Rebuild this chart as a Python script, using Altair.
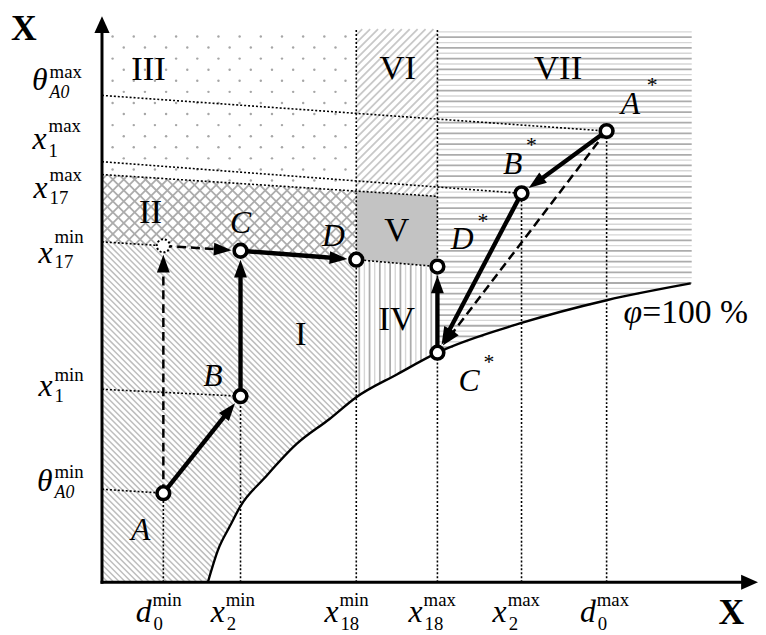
import math
import altair as alt
import pandas as pd

# ---------------- chart values (chart units: origin at the axes' crossing, x to the right, y upward)
pt_name = ["A", "B", "C", "D", "P", "A*", "B*", "C*", "D*"]
pt_x = [62, 140, 140, 257, 62, 510, 424, 339, 339]
pt_y = [90, 188, 335, 326, 340, 456, 393, 232, 319]

arrow_from = ["A", "B", "C", "A", "P", "A*", "B*", "A*", "C*"]
arrow_to = ["B", "C", "D", "P", "C", "B*", "C*", "C*", "D*"]
arrow_dashed = [False, False, False, True, True, False, False, True, False]

# phi = 100 % curve
curve_x = [107, 117, 130, 140, 164, 197, 230, 257, 298, 339, 424, 510, 595]
curve_y = [0, 32, 58, 77, 105, 140, 165, 187, 210, 232, 262, 285, 302]

# sloped dotted level lines
lvl_x0 = [0, 0, 0, 0, 257, 0, 0]
lvl_y0 = [492, 425, 412, 344, 326, 94, 195]
lvl_x1 = [510, 424, 339, 62, 339, 62, 140]
lvl_y1 = [456, 393, 390, 340, 319, 90, 188]

# vertical dotted guides
vert_x = [62, 140, 257, 339, 424, 510]
vert_top = [90, 188, 559, 559, 393, 456]

TOP, RIGHT = 559, 596

# tick labels, x axis
xl_main = ["d", "x", "x", "x", "x", "d"]
xl_sup = ["min", "min", "min", "max", "max", "max"]
xl_sub = ["0", "2", "18", "18", "2", "0"]
xl_right = [50, 124, 239, 324, 409, 499]

# tick labels, y axis
yl_main = ["θ", "x", "x", "x", "x", "θ"]
yl_sup = ["max", "max", "max", "min", "min", "min"]
yl_sub = ["A0", "1", "17", "17", "1", "A0"]
yl_right = [-55, -56, -55, -50, -50, -50]
yl_base = [497, 438, 388, 323, 188, 92]
yl_supbase = [510, 455, 405, 343, 203, 105]
yl_subbase = [489, 430, 382, 318, 182, 85]

# region numerals
rn_text = ["I", "II", "III", "IV", "V", "VI", "VII"]
rn_x = [201, 49, 47, 298, 298, 299, 461]
rn_y = [240, 363, 508, 255, 345, 509, 509]

# point labels
pl_text = ["A", "B", "C", "D", "A", "B", "C", "D"]
pl_x = [39, 112, 140, 234, 534, 415, 371, 364]
pl_y = [43, 198, 353, 340, 473, 413, 193, 337]
star_x = [556, 434, 391, 385]
star_y = [502, 442, 222, 365]

# ---------------- layout
W, H = 758, 627
OX, OY = 103, 585
xs = alt.Scale(domain=[8 - OX, 8 + W - OX])
ys = alt.Scale(domain=[OY - 8 - H, OY - 8])
SERIF = "Liberation Serif"


def X(f):
    return alt.X(f, type="quantitative", scale=xs, axis=None)


def Y(f):
    return alt.Y(f, type="quantitative", scale=ys, axis=None)


P = {n: (x, y) for n, x, y in zip(pt_name, pt_x, pt_y)}


def line_at(x0, y0, x1, y1, x):
    return y0 + (y1 - y0) * (x - x0) / (x1 - x0)


L3_257 = line_at(lvl_x0[2], lvl_y0[2], lvl_x1[2], lvl_y1[2], 257)
L3_339 = lvl_y1[2]
L4_0, L4_257 = lvl_y0[3], P["D"][1]
curve = list(zip(curve_x, curve_y))

poly_I = [(0, 0), (curve_x[0], 0)] + [p for p in curve if 0 < p[0] <= 257] + [(257, L4_257), (0, L4_0)]
poly_II = [(0, L4_0), (0, lvl_y0[2]), (257, L3_257), (257, L4_257)]
poly_III = [(0, lvl_y0[2]), (0, TOP), (257, TOP), (257, L3_257)]
poly_IV = [(257, L4_257), (339, P["D*"][1])] + [p for p in curve if 257 <= p[0] <= 339][::-1]
poly_V = [(257, L4_257), (257, L3_257), (339, L3_339), (339, P["D*"][1])]
poly_VI = [(257, L3_257), (257, TOP), (339, TOP), (339, L3_339)]
poly_VII = [(339, TOP), (RIGHT, TOP), (RIGHT, curve_y[-1])] + [p for p in curve if p[0] >= 339][::-1]


def hatch(poly, normal, spacing, offset=0.0):
    nx, ny = normal
    nn = math.hypot(nx, ny)
    nx, ny = nx / nn, ny / nn
    vals = [nx * x + ny * y for x, y in poly]
    lo, hi = min(vals), max(vals)
    k = math.ceil((lo - offset) / spacing)
    dx, dy = -ny, nx
    segs = []
    while offset + k * spacing <= hi:
        c = offset + k * spacing
        pts = []
        n = len(poly)
        for i in range(n):
            x1, y1 = poly[i]
            x2, y2 = poly[(i + 1) % n]
            s1 = nx * x1 + ny * y1 - c
            s2 = nx * x2 + ny * y2 - c
            if (s1 < 0) != (s2 < 0):
                t = s1 / (s1 - s2)
                pts.append((x1 + t * (x2 - x1), y1 + t * (y2 - y1)))
        pts.sort(key=lambda p: p[0] * dx + p[1] * dy)
        for j in range(0, len(pts) - 1, 2):
            segs.append((pts[j], pts[j + 1], k))
        k += 1
    return segs


rows = []


def add(segs, col, w, col2=None, w2=None):
    for a, b, k in segs:
        c, ww = (col, w) if (col2 is None or k % 2 == 0) else (col2, w2)
        rows.append(dict(x=a[0], y=a[1], x2=b[0], y2=b[1], col=c, w=ww))


s2 = math.sqrt(2)
add(hatch(poly_I, (1, 1), 6 / s2), "#bdbdbd", 1.5)
add(hatch(poly_II, (1, 1), 11 / s2), "#acacac", 1.8)
add(hatch(poly_II, (1, -1), 11 / s2), "#acacac", 1.8)
add(hatch(poly_VI, (1, -1), 8 / s2), "#c8c8c8", 1.8)
add(hatch(poly_IV, (1, 0), 5.2), "#acacac", 1.8, "#d6d6d6", 1.4)
add(hatch(poly_VII, (0, 1), 5.4), "#acacac", 1.8, "#d6d6d6", 1.4)
hatch_df = pd.DataFrame(rows)


def inside(poly, x, y):
    res = False
    n = len(poly)
    for i in range(n):
        x1, y1 = poly[i]
        x2, y2 = poly[(i + 1) % n]
        if (y1 > y) != (y2 > y):
            xi = x1 + (y - y1) * (x2 - x1) / (y2 - y1)
            if x < xi:
                res = not res
    return res


dots = []
r = 0
yy = 518 + 11.2 * 4
while yy > 380:
    off = 22 if r % 2 == 0 else 10.7
    xx = off
    while xx < 257:
        if inside(poly_III, xx, yy):
            dots.append(dict(x=xx, y=yy))
        xx += 21.4
    yy -= 11.2
    r += 1
dots_df = pd.DataFrame(dots)

hatch_layer = alt.Chart(hatch_df).mark_rule(strokeCap="butt").encode(
    x=X("x"), y=Y("y"), x2="x2", y2="y2",
    color=alt.Color("col:N", scale=None),
    strokeWidth=alt.StrokeWidth("w:Q", scale=None),
)
dots_layer = alt.Chart(dots_df).mark_circle(size=6, color="#a6a6a6", opacity=1).encode(x=X("x"), y=Y("y"))

v_df = pd.DataFrame(dict(x=[257, 339], y=[L3_257, L3_339], y2=[L4_257, P["D*"][1]]))
v_layer = alt.Chart(v_df).mark_area(color="#c3c3c3", opacity=1).encode(x=X("x"), y=Y("y"), y2="y2")

guides_df = pd.concat([
    pd.DataFrame(dict(x=lvl_x0, y=lvl_y0, x2=lvl_x1, y2=lvl_y1)),
    pd.DataFrame(dict(x=vert_x, y=[0] * len(vert_x), x2=vert_x, y2=vert_top)),
])
guides_layer = alt.Chart(guides_df).mark_rule(strokeDash=[2, 2], strokeWidth=1.6, color="black").encode(
    x=X("x"), y=Y("y"), x2="x2", y2="y2")

curve_layer = alt.Chart(pd.DataFrame(dict(x=curve_x, y=curve_y))).mark_line(
    color="black", strokeWidth=2.4, interpolate="monotone").encode(x=X("x"), y=Y("y"))

axes_df = pd.DataFrame(dict(x=[0, 0], y=[0, 0], x2=[0, 648], y2=[556, 0]))
axes_layer = alt.Chart(axes_df).mark_rule(strokeWidth=3, color="black", strokeCap="square").encode(
    x=X("x"), y=Y("y"), x2="x2", y2="y2")
axhead_df = pd.DataFrame(dict(x=[0, 663], y=[572, 0], ang=[0, 90]))
HEAD_AX = "M0,0L0.9,2L-0.9,2Z"
HEAD = "M0,0L0.72,2L-0.72,2Z"
axhead_layer = alt.Chart(axhead_df).mark_point(shape=HEAD_AX, filled=True, color="black", opacity=1, size=290).encode(
    x=X("x"), y=Y("y"), angle=alt.Angle("ang:Q", scale=None))

# arrows
R_END = 9.0
HL = 18.0
arr = []
for f, t, d in zip(arrow_from, arrow_to, arrow_dashed):
    (x0, y0), (x1, y1) = P[f], P[t]
    L = math.hypot(x1 - x0, y1 - y0)
    ux, uy = (x1 - x0) / L, (y1 - y0) / L
    tx, ty = x1 - ux * R_END, y1 - uy * R_END
    ex, ey = tx - ux * HL * 0.7, ty - uy * HL * 0.7
    ang = math.degrees(math.atan2(ux, uy)) % 360
    arr.append(dict(x=x0, y=y0, x2=ex, y2=ey, tx=tx, ty=ty, ang=ang, dashed=d))
arr_df = pd.DataFrame(arr)
solid_layer = alt.Chart(arr_df[~arr_df.dashed]).mark_rule(strokeWidth=4.4, color="black", strokeCap="butt").encode(
    x=X("x"), y=Y("y"), x2="x2", y2="y2")
dashed_layer = alt.Chart(arr_df[arr_df.dashed]).mark_rule(strokeWidth=2.5, color="black", strokeDash=[9, 5], strokeCap="butt").encode(
    x=X("x"), y=Y("y"), x2="x2", y2="y2")
heads_layer = alt.Chart(arr_df).mark_point(shape=HEAD, filled=True, color="black", opacity=1, size=HL ** 2).encode(
    x=X("tx"), y=Y("ty"), angle=alt.Angle("ang:Q", scale=None))

pts_df = pd.DataFrame(dict(name=pt_name, x=pt_x, y=pt_y))
circ_layer = alt.Chart(pts_df[pts_df.name != "P"]).mark_point(
    shape="circle", filled=True, fill="white", stroke="black", strokeWidth=3.6, size=165, opacity=1
).encode(x=X("x"), y=Y("y"))
phantom_layer = alt.Chart(pts_df[pts_df.name == "P"]).mark_point(
    shape="circle", filled=True, fill="white", stroke="black", strokeWidth=2, strokeDash=[2, 2], size=175, opacity=1
).encode(x=X("x"), y=Y("y"))


# texts
def text_layer(df, xf, yf, tf, **kw):
    props = dict(font=SERIF, color="black", baseline="alphabetic")
    props.update(kw)
    return alt.Chart(df).mark_text(**props).encode(x=X(xf), y=Y(yf), text=alt.Text(tf + ":N"))


xl_df = pd.DataFrame(dict(m=xl_main, sup=xl_sup, sub=xl_sub, r=xl_right))
xl_df["sl"] = xl_df.r + 1
xl_df["bl"] = xl_df.r + 2
xl_df["yb"] = -40
xl_df["ysup"] = -24
xl_df["ysub"] = -48

yl_df = pd.DataFrame(dict(m=yl_main, sup=yl_sup, sub=yl_sub, r=yl_right, yb=yl_base, ysup=yl_supbase, ysub=yl_subbase))
yl_df["sl"] = yl_df.r + 2

tick_layers = [
    text_layer(xl_df, "r", "yb", "m", fontSize=32, fontStyle="italic", align="right"),
    text_layer(xl_df, "sl", "ysup", "sup", fontSize=19, align="left"),
    text_layer(xl_df, "bl", "ysub", "sub", fontSize=19, align="left"),
    text_layer(yl_df, "r", "yb", "m", fontSize=32, fontStyle="italic", align="right"),
    text_layer(yl_df, "sl", "ysup", "sup", fontSize=19, align="left"),
    text_layer(yl_df[yl_df["sub"] != "A0"], "sl", "ysub", "sub", fontSize=19, align="left"),
    text_layer(yl_df[yl_df["sub"] == "A0"], "sl", "ysub", "sub", fontSize=18, fontStyle="italic", align="left"),
]

rn_df = pd.DataFrame(dict(t=rn_text, x=rn_x, y=rn_y))
pl_df = pd.DataFrame(dict(t=pl_text, x=pl_x, y=pl_y))
st_df = pd.DataFrame(dict(t=["*"] * len(star_x), x=star_x, y=star_y))
big_df = pd.DataFrame(dict(t=["X", "X"], x=[-79, 636], y=[548, -42]))
phi_df = pd.DataFrame(dict(t=["φ"], x=[527], y=[262]))
pct_df = pd.DataFrame(dict(t=["=100 %"], x=[546], y=[262]))

label_layers = [
    text_layer(rn_df, "x", "y", "t", fontSize=35, align="center"),
    text_layer(pl_df, "x", "y", "t", fontSize=32, fontStyle="italic", align="center"),
    text_layer(st_df, "x", "y", "t", fontSize=22, align="center", baseline="middle"),
    text_layer(big_df, "x", "y", "t", fontSize=36, fontWeight="bold", align="center"),
    text_layer(phi_df, "x", "y", "t", fontSize=34, fontStyle="italic", align="left"),
    text_layer(pct_df, "x", "y", "t", fontSize=34, align="left"),
]

chart = alt.layer(
    hatch_layer, dots_layer, v_layer, guides_layer, curve_layer, axes_layer, axhead_layer,
    dashed_layer, solid_layer, heads_layer, circ_layer, phantom_layer,
    *tick_layers, *label_layers,
).properties(
    width=W, height=H, padding=0, autosize=alt.AutoSizeParams(type="none"), background="white"
).configure_view(stroke=None)

chart.save("out.html", embed_options={"renderer": "svg", "actions": False})
